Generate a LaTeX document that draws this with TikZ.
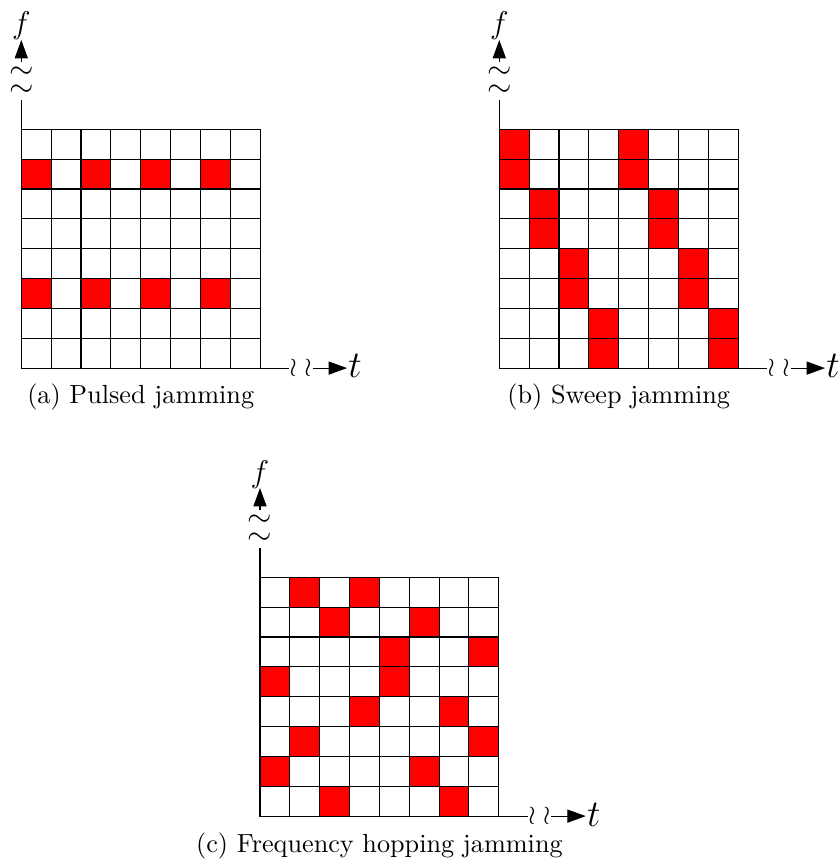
\documentclass[tikz,border=0pt]{standalone}
\usetikzlibrary{arrows.meta}
\def\cw{29.85}
\tikzset{
  x=0.3817pt, y=-0.3817pt,
  cellline/.style={draw=black, line width=0.4pt},
  jam/.style={cellline, fill=red},
  axisline/.style={draw=black, line width=0.4pt},
  axisarrow/.style={axisline, -{Triangle[length=7pt,width=5pt]}},
  brk/.style={inner sep=0pt, outer sep=0pt, font=\large},
  hbrk/.style={inner sep=0pt, outer sep=0pt, font=\normalsize},
  flabel/.style={inner sep=0pt, font=\large},
  tlabel/.style={inner sep=0pt, font=\Large},
  caption/.style={inner sep=0pt, font=\normalsize},
}
\newcommand\jampanel[5]{%
  \begin{scope}[shift={(#2,#3)}]
    \foreach \i in {0,...,7}{\foreach \j in {0,...,7}{%
      \draw[cellline] (\i*\cw,\j*\cw) rectangle ++(\cw,\cw);}}
    \foreach \i/\j in {#4}{%
      \draw[jam] (\i*\cw,\j*\cw) rectangle ++(\cw,\cw);}
    % frequency axis
    \coordinate (#1-o) at (0,8*\cw);
    \coordinate (#1-vb) at (0,-29.3);
    \node[brk] (#1-v1) at (0,-38.3) {$\sim$};
    \node[brk] (#1-v2) at (0,-56.3) {$\sim$};
    \coordinate (#1-vs) at (0,-67.3);
    \coordinate (#1-vt) at (0,-89.3);
    \node[flabel, anchor=base] (#1-f) at (0,-95.3) {$f$};
    \draw[axisline] (#1-o) -- (#1-vb);
    \draw[axisarrow] (#1-vs) -- (#1-vt);
    % time axis
    \coordinate (#1-hb) at (267.7,8*\cw);
    \node[hbrk] (#1-h1) at (271.9,8*\cw) {$\wr$};
    \node[hbrk] (#1-h2) at (286.7,8*\cw) {$\wr$};
    \coordinate (#1-hs) at (291.2,8*\cw);
    \coordinate (#1-ht) at (325.7,8*\cw);
    \node[tlabel, anchor=base] (#1-t) at (333.7,248.7) {$t$};
    \draw[axisline] (#1-o) -- (#1-hb);
    \draw[axisarrow] (#1-hs) -- (#1-ht);
    % caption
    \node[caption, anchor=base] (#1-cap) at (4*\cw,274.7) {#5};
  \end{scope}}
\begin{document}
\begin{tikzpicture}
  \useasboundingbox (0,0) rectangle (839,861);
  \jampanel{a}{21.3}{129.3}{0/1,2/1,4/1,6/1,0/5,2/5,4/5,6/5}{(a) Pulsed jamming}
  \jampanel{b}{499.3}{129.3}{0/0,0/1,1/2,1/3,2/4,2/5,3/6,3/7,4/0,4/1,5/2,5/3,6/4,6/5,7/6,7/7}{(b) Sweep jamming}
  \jampanel{c}{260}{577.3}{1/0,3/0,2/1,5/1,4/2,7/2,0/3,4/3,3/4,6/4,1/5,7/5,0/6,5/6,2/7,6/7}{(c) Frequency hopping jamming}
\end{tikzpicture}
\end{document}
